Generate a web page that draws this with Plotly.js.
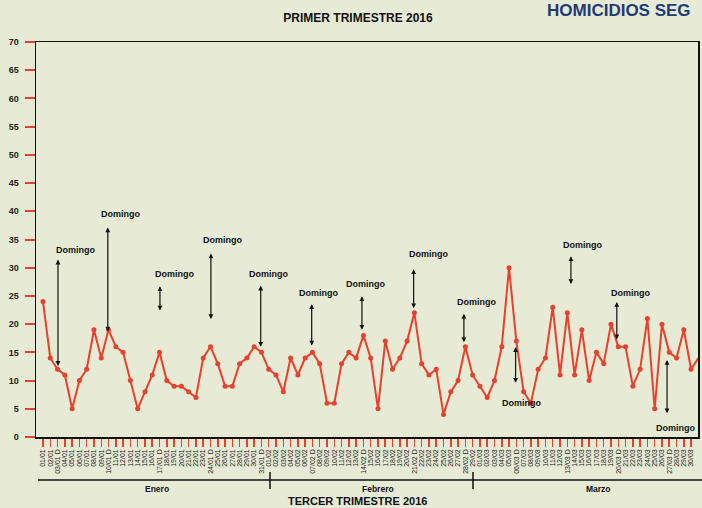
<!DOCTYPE html>
<html>
<head>
<meta charset="utf-8">
<script src="https://cdn.plot.ly/plotly-3.0.1.min.js"></script>
<style>
html,body{margin:0;padding:0;background:#E7EAD5;}
#chart{width:702px;height:508px;}
</style>
</head>
<body>
<div id="chart"></div>
<script>
// ---- Data ----
var eneroDates = ["01/01","02/01","03/01","04/01","05/01","06/01","07/01","08/01","09/01","10/01","11/01","12/01","13/01","14/01","15/01","16/01","17/01","18/01","19/01","20/01","21/01","22/01","23/01","24/01","25/01","26/01","27/01","28/01","29/01","30/01","31/01"];
var febreroDates = ["01/02","02/02","03/02","04/02","05/02","06/02","07/02","08/02","09/02","10/02","11/02","12/02","13/02","14/02","15/02","16/02","17/02","18/02","19/02","20/02","21/02","22/02","23/02","24/02","25/02","26/02","27/02","28/02","29/02"];
var marzoDates = ["01/03","02/03","03/03","04/03","05/03","06/03","07/03","08/03","09/03","10/03","11/03","12/03","13/03","14/03","15/03","16/03","17/03","18/03","19/03","20/03","21/03","22/03","23/03","24/03","25/03","26/03","27/03","28/03","29/03","30/03","31/03"];

var eneroValues = [24,14,12,11,5,10,12,19,14,19,16,15,10,5,8,11,15,10,9,9,8,7,14,16,13,9,9,13,14,16,15];
var febreroValues = [12,11,8,14,11,14,15,13,6,6,13,15,14,18,14,5,17,12,14,17,22,13,11,12,4,8,10,16,11];
var marzoValues = [9,7,10,16,30,17,8,6,12,14,23,11,22,11,19,10,15,13,20,16,16,9,12,21,5,20,15,14,19,12,14];

var domingos = ["03/01","10/01","17/01","24/01","31/01","07/02","14/02","21/02","28/02","06/03","13/03","20/03","27/03"];
var meses = ["Enero","Febrero","Marzo"];
var yTicks = [0,5,10,15,20,25,30,35,40,45,50,55,60,65,70];

// ---- Build ----
var dates = eneroDates.concat(febreroDates, marzoDates);
var values = eneroValues.concat(febreroValues, marzoValues);
var tickText = dates.map(function(d){ return domingos.indexOf(d) >= 0 ? d + " D" : d; });

var red = "#E8412C";
var bg = "#E7EAD5";
var fontFam = "Liberation Sans, Arial, sans-serif";

var trace = {
  x: dates, y: values, type: "scatter", mode: "lines+markers",
  line: {color: red, width: 2},
  marker: {color: red, size: 5},
  cliponaxis: false,
  hoverinfo: "x+y"
};

// arrow geometry for "Domingo" callouts: [xIdx, head, tail, labelX, labelY]
var arrows = [
  [2.06, 12.6, 31.7, 4.4, 33.1],
  [8.9, 18.7, 37.4, 10.7, 39.5],
  [16.06, 22.4, 27.0, 18.1, 28.9],
  [23.06, 20.9, 32.8, 24.7, 34.9],
  [29.9, 16.0, 27.1, 30.9, 28.9],
  [36.9, 16.2, 23.8, 37.9, 25.5],
  [43.8, 19.0, 25.2, 44.3, 27.1],
  [50.9, 22.8, 30.0, 53.0, 32.4],
  [57.8, 16.8, 22.1, 59.6, 23.9],
  [64.9, 9.6, 16.2, 65.7, 6.1],
  [72.5, 27.1, 32.3, 74.1, 34.0],
  [78.8, 17.3, 24.2, 80.7, 25.6],
  [85.7, 4.2, 13.9, 86.9, 1.65]
];

var plotTop = 42, plotBottom = 437, plotH = plotBottom - plotTop;
function py(px){ return (plotBottom - px) / plotH; }
var plotLeft = 36, plotRight = 698, plotW = plotRight - plotLeft;
function pxp(px){ return (px - plotLeft) / plotW; }

var annotations = [];
arrows.forEach(function(a){
  annotations.push({
    x: a[0], y: a[1], ax: a[0], ay: a[2],
    xref: "x", yref: "y", axref: "x", ayref: "y",
    text: "", showarrow: true,
    arrowhead: 2, startarrowhead: 2, arrowside: "end+start",
    arrowsize: 0.8, startarrowsize: 0.8, arrowwidth: 1.2, arrowcolor: "#111",
    standoff: 0, startstandoff: 0
  });
  annotations.push({
    x: a[3], y: a[4], xref: "x", yref: "y", text: "<b>Domingo</b>",
    showarrow: false, font: {family: fontFam, size: 9, color: "#111"},
    xanchor: "center", yanchor: "middle"
  });
});

// month labels
var mesPos = [15.6, 46.0, 76.3];
meses.forEach(function(m, i){
  annotations.push({
    x: mesPos[i], y: py(489), xref: "x", yref: "paper", text: "<b>" + m + "</b>",
    showarrow: false, font: {family: fontFam, size: 8.5, color: "#111"},
    xanchor: "center", yanchor: "middle"
  });
});

annotations.push({
  x: pxp(546), y: py(10), xref: "paper", yref: "paper", text: "<b>HOMICIDIOS SEG</b>",
  showarrow: false, font: {family: fontFam, size: 17, color: "#1E3A78"},
  xanchor: "left", yanchor: "middle", borderpad: 0
});
annotations.push({
  x: pxp(357), y: py(508), xref: "paper", yref: "paper", text: "<b>TERCER TRIMESTRE 2016</b>",
  showarrow: false, font: {family: fontFam, size: 11, color: "#111"},
  xanchor: "center", yanchor: "bottom", borderpad: 0
});

var shapes = [
  {type: "line", xref: "paper", yref: "paper", x0: pxp(38), x1: pxp(702), y0: py(480), y1: py(480), line: {color: "#111", width: 1.5}},
  {type: "line", xref: "paper", yref: "paper", x0: pxp(270), x1: pxp(270), y0: py(472), y1: py(489), line: {color: "#111", width: 1.5}},
  {type: "line", xref: "paper", yref: "paper", x0: pxp(473), x1: pxp(473), y0: py(472), y1: py(489), line: {color: "#111", width: 1.5}}
];

var layout = {
  width: 702, height: 508,
  paper_bgcolor: bg, plot_bgcolor: bg,
  margin: {l: plotLeft, r: 702 - plotRight, t: plotTop, b: 508 - plotBottom, pad: 0},
  showlegend: false,
  title: {
    text: "<b>PRIMER TRIMESTRE 2016</b>",
    font: {family: fontFam, size: 12, color: "#111"},
    x: 358 / 702, xref: "container", xanchor: "center",
    y: 1 - 18 / 508, yref: "container", yanchor: "middle"
  },
  xaxis: {
    type: "category",
    range: [-0.96, 89.95],
    tickmode: "array", tickvals: dates, ticktext: tickText,
    tickangle: -90,
    tickfont: {family: fontFam, size: 7, color: "#222"},
    ticks: "outside", ticklen: 8, tickwidth: 1.5, tickcolor: red,
    showline: true, linecolor: "#111", linewidth: 1.5, mirror: true,
    showgrid: false, zeroline: false, fixedrange: true
  },
  yaxis: {
    range: [0, 70],
    tickmode: "array", tickvals: yTicks, ticktext: yTicks.map(function(v){ return "<b>" + v + "</b>"; }),
    tickfont: {family: fontFam, size: 9, color: "#222"},
    ticks: "outside", ticklen: 10, tickwidth: 2, tickcolor: red,
    ticklabelstandoff: 4,
    showline: true, linecolor: "#111", linewidth: 1.5, mirror: true,
    showgrid: false, zeroline: false, fixedrange: true
  },
  annotations: annotations,
  shapes: shapes
};

Plotly.newPlot("chart", [trace], layout, {displayModeBar: false, staticPlot: true});
</script>
</body>
</html>
